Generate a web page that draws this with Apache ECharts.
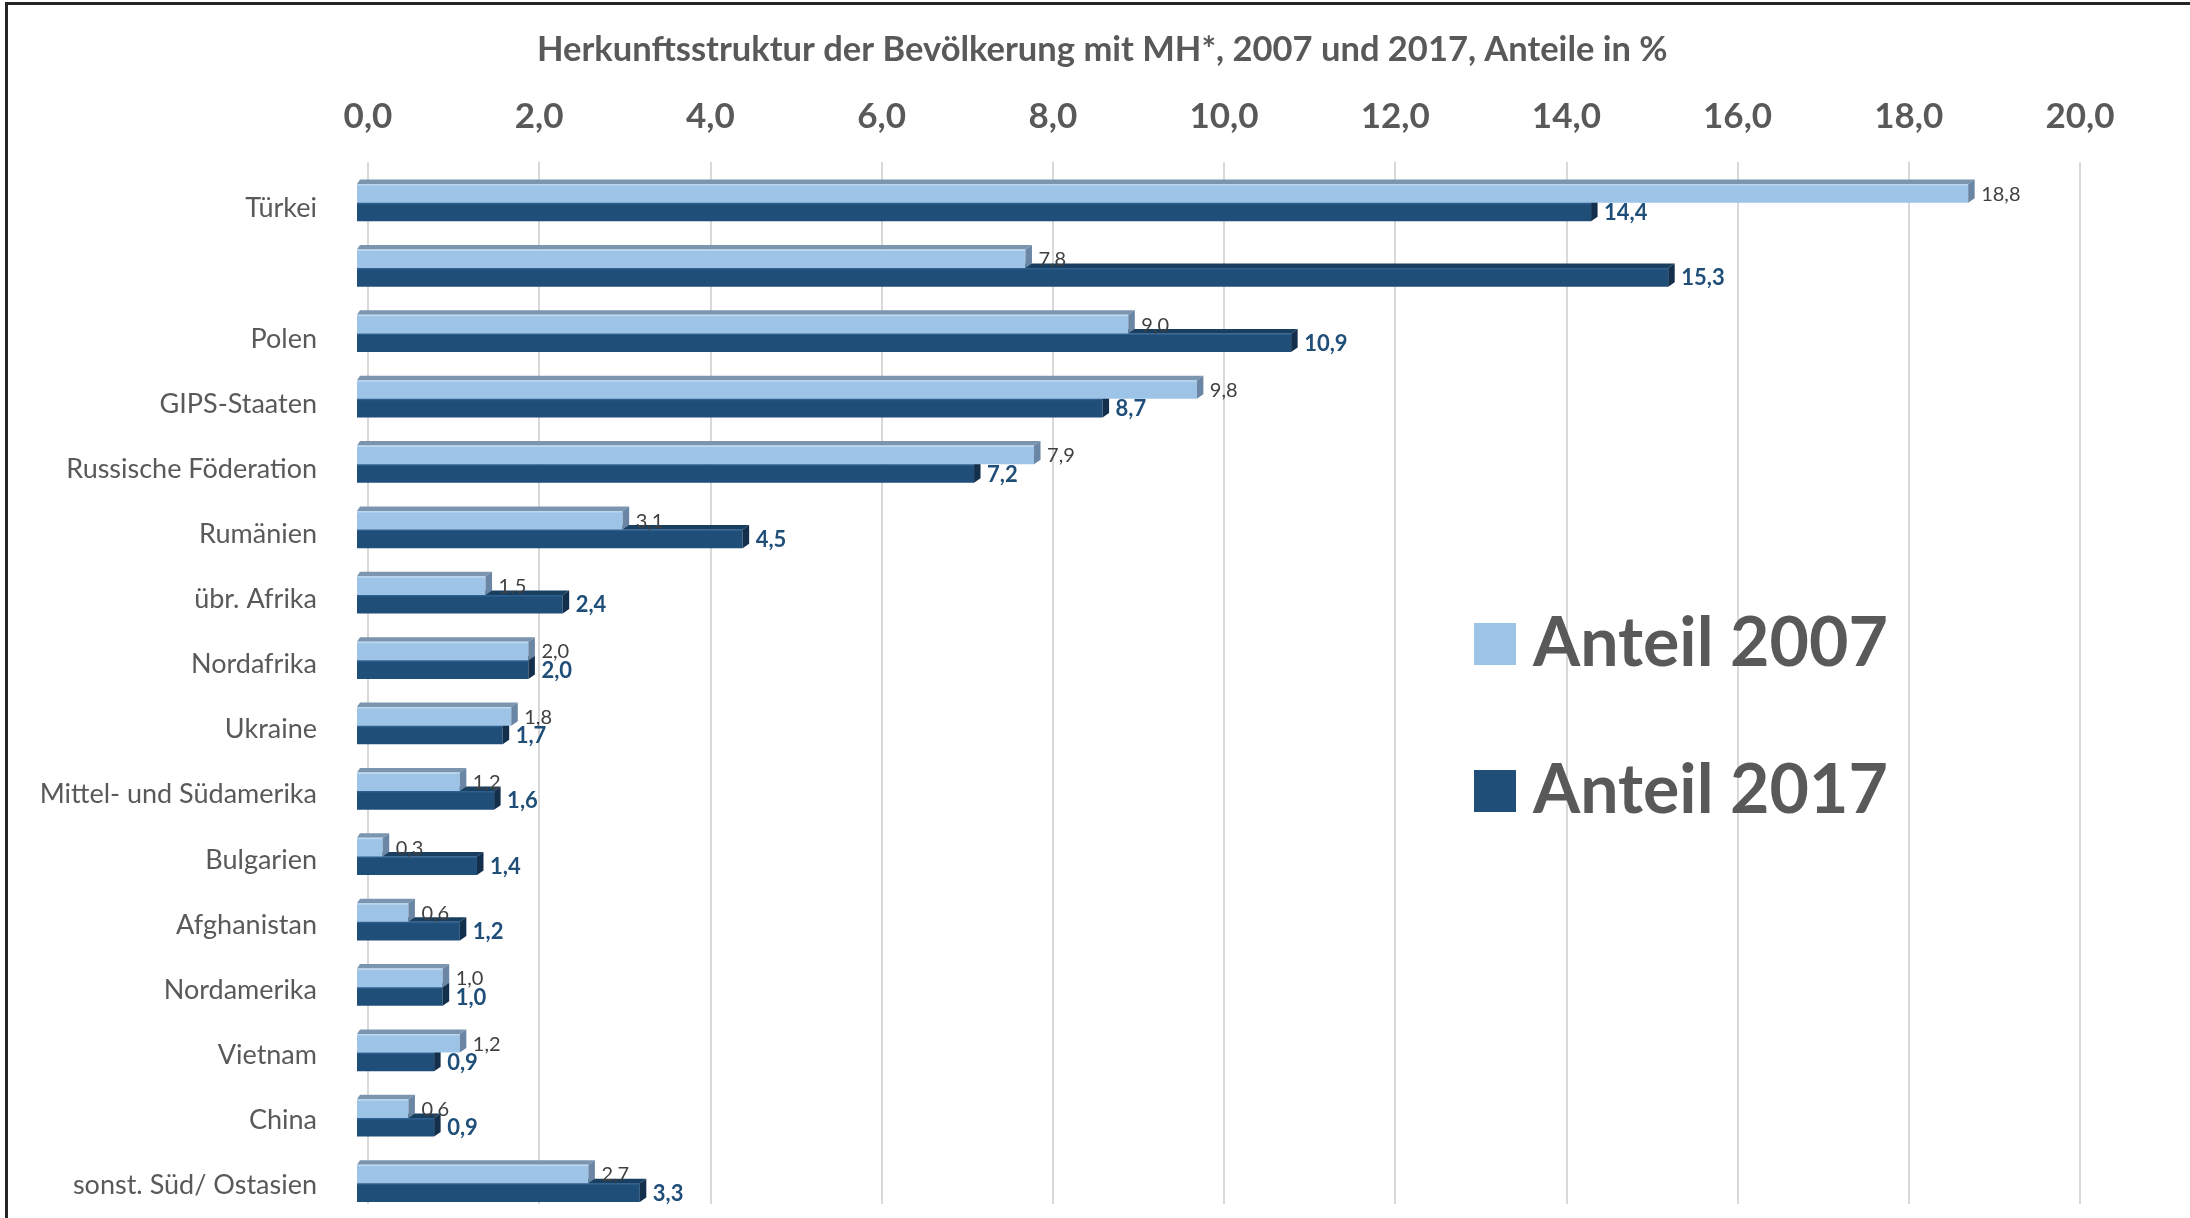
<!DOCTYPE html>
<html>
<head>
<meta charset="utf-8">
<script src="https://cdn.jsdelivr.net/npm/echarts@6/dist/echarts.min.js"></script>
<style>
  html, body { margin: 0; padding: 0; background: #ffffff; }
  #chart { width: 2190px; height: 1218px; }
</style>
</head>
<body>
<div id="chart"></div>
<script>
// Herkunftsregionen (die zweite Zeile bleibt ohne Beschriftung)
const categories = [
  'Türkei', '', 'Polen', 'GIPS-Staaten', 'Russische Föderation', 'Rumänien',
  'übr. Afrika', 'Nordafrika', 'Ukraine', 'Mittel- und Südamerika', 'Bulgarien',
  'Afghanistan', 'Nordamerika', 'Vietnam', 'China', 'sonst. Süd/ Ostasien'
];
const anteil2007 = [18.8, 7.8, 9.0, 9.8, 7.9, 3.1, 1.5, 2.0, 1.8, 1.2, 0.3, 0.6, 1.0, 1.2, 0.6, 2.7];
const anteil2017 = [14.4, 15.3, 10.9, 8.7, 7.2, 4.5, 2.4, 2.0, 1.7, 1.6, 1.4, 1.2, 1.0, 0.9, 0.9, 3.3];
const seriesNames = ['Anteil 2007', 'Anteil 2017'];
const axisMin = 0, axisMax = 20, axisStep = 2;

const FONT = 'Lato, "Open Sans", sans-serif';
const fmt = v => v.toFixed(1).replace('.', ',');

// Farben der Quader: Vorderseite, Oberseite, rechte Seite
const styles = {
  light: { front: '#9DC3E6', top: '#7C95AF', side: '#6A86A4', edge: '#BDD7EE',
           label: { color: '#404040', size: 20, weight: 'normal' } },
  dark:  { front: '#1F4E79', top: '#183E60', side: '#142F4C', edge: '#2E5F8E',
           label: { color: '#1F4E79', size: 22, weight: 'bold' } }
};

// Zeichnet einen Balken als Quader mit Ober- und Seitenfläche
function makeRenderer(kind) {
  const st = styles[kind];
  return function (params, api) {
    const cat = api.value(1);
    const val = api.value(0);
    const p0 = api.coord([0, cat]);
    const p1 = api.coord([val, cat]);
    const band = api.size([0, 1])[1];
    const h = band * 0.285;
    const c = p0[1];
    const y0 = kind === 'light' ? c - h : c;
    const x0 = p0[0], x1 = p1[0];
    const dxL = 3, dxR = 6.5, dy = 4.5;
    return {
      type: 'group',
      children: [
        { type: 'polygon', shape: { points: [[x0, y0], [x1, y0], [x1 + dxR, y0 - dy], [x0 + dxL, y0 - dy]] },
          style: { fill: st.top } },
        { type: 'rect', shape: { x: x0, y: y0, width: x1 - x0, height: h },
          style: { fill: st.front } },
        { type: 'line', shape: { x1: x0, y1: y0 + 0.75, x2: x1, y2: y0 + 0.75 },
          style: { stroke: st.edge, lineWidth: 1.5 } },
        { type: 'polygon', shape: { points: [[x1, y0], [x1 + dxR, y0 - dy], [x1 + dxR, y0 + h - dy], [x1, y0 + h]] },
          style: { fill: st.side } },
        { type: 'text', style: {
            text: fmt(val), x: x1 + 13, y: y0 + h / 2 + 1,
            verticalAlign: 'middle', align: 'left',
            fill: st.label.color, fontSize: st.label.size, fontWeight: st.label.weight, fontFamily: FONT } }
      ]
    };
  };
}

const chart = echarts.init(document.getElementById('chart'), null, { renderer: 'canvas' });

chart.setOption({
  backgroundColor: '#ffffff',
  animation: false,
  title: {
    text: 'Herkunftsstruktur der Bevölkerung mit MH*, 2007 und 2017, Anteile in %',
    left: 532, top: 27,
    textStyle: { fontFamily: FONT, fontSize: 34.5, fontWeight: 'bold', color: '#595959' }
  },
  legend: {
    data: seriesNames,
    orient: 'vertical',
    left: 1469, top: 598,
    itemWidth: 42, itemHeight: 42, itemGap: 65,
    icon: 'rect',
    textStyle: { fontFamily: FONT, fontSize: 68, fontWeight: 'bold', color: '#595959',
                 lineHeight: 82, padding: [0, 0, 0, 12] }
  },
  graphic: [
    { type: 'rect', shape: { x: 6.5, y: 3.5, width: 2300, height: 1300 },
      style: { fill: null, stroke: '#262626', lineWidth: 3 }, silent: true, z: 100 }
  ],
  grid: [
    // Rückwand mit Gitternetz und Skalenbeschriftung
    { left: 368, right: 110, top: 162, bottom: 14 },
    // Balkenebene (leicht nach vorn versetzt)
    { left: 357, right: 119, top: 170, bottom: 2 },
    // Kategorienbeschriftung
    { left: 357, right: 119, top: 176, bottom: 0 }
  ],
  xAxis: [
    { gridIndex: 0, type: 'value', position: 'top', min: axisMin, max: axisMax, interval: axisStep,
      axisLine: { show: false }, axisTick: { show: false },
      axisLabel: { formatter: v => fmt(v), fontFamily: FONT, fontSize: 35, fontWeight: 'bold',
                   color: '#595959', margin: 45, verticalAlign: 'middle' },
      splitLine: { show: true, lineStyle: { color: '#D9D9D9', width: 2 } } },
    { gridIndex: 1, type: 'value', min: axisMin, max: axisMax, show: false },
    { gridIndex: 2, type: 'value', min: axisMin, max: axisMax, show: false }
  ],
  yAxis: [
    { gridIndex: 0, type: 'value', show: false, splitLine: { show: false } },
    { gridIndex: 1, type: 'category', data: categories, inverse: true, show: false },
    { gridIndex: 2, type: 'category', data: categories, inverse: true,
      axisLine: { show: false }, axisTick: { show: false }, splitLine: { show: false },
      axisLabel: { fontFamily: FONT, fontSize: 27, color: '#595959', margin: 40 } }
  ],
  series: [
    { name: seriesNames[1], type: 'custom', xAxisIndex: 1, yAxisIndex: 1,
      itemStyle: { color: styles.dark.front },
      renderItem: makeRenderer('dark'),
      encode: { x: 0, y: 1 },
      data: anteil2017.map((v, i) => [v, i]), z: 2 },
    { name: seriesNames[0], type: 'custom', xAxisIndex: 1, yAxisIndex: 1,
      itemStyle: { color: styles.light.front },
      renderItem: makeRenderer('light'),
      encode: { x: 0, y: 1 },
      data: anteil2007.map((v, i) => [v, i]), z: 3 }
  ]
});
</script>
</body>
</html>
